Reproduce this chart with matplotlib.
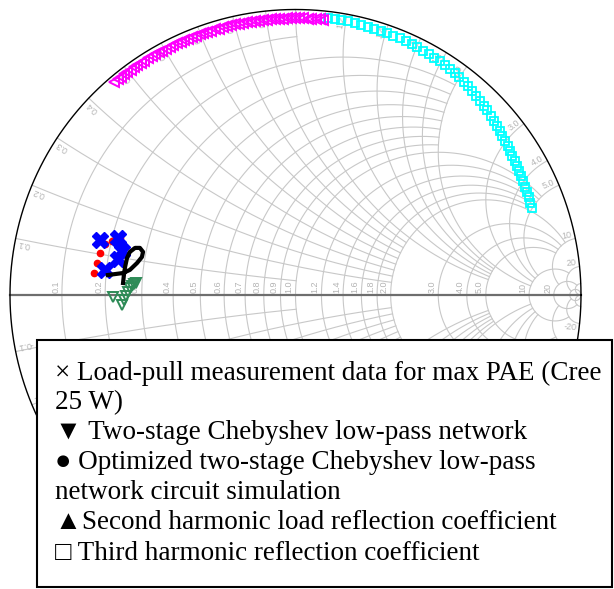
import numpy as np
import matplotlib.pyplot as plt
from matplotlib.patches import Rectangle

# smith grid values (circle value, value where it stops)
grid_vals = [50, 20, 10, 5, 4, 3, 2, 1.8, 1.6, 1.4, 1.2, 1.0, 0.9, 0.8, 0.7, 0.6, 0.5, 0.4, 0.3, 0.2, 0.1]
grid_ends = [np.inf, 50, 20, 10, 10, 10, 10, 5, 5, 5, 5, 5, 2, 2, 2, 2, 2, 2, 2, 2, 1]

# load-pull measurement (x markers), reflection coefficient re / im
lp_re = [-0.685, -0.622, -0.608, -0.622, -0.667]
lp_im = [0.193, 0.200, 0.154, 0.126, 0.088]

# two-stage chebyshev network (down triangles)
cheb_re = [-0.639, -0.608, -0.601, -0.594, -0.587, -0.580, -0.573, -0.566, -0.559]
cheb_im = [-0.007, -0.035, -0.018, -0.004, 0.011, 0.025, 0.032, 0.039, 0.042]

# optimized network, circuit simulation (dots)
opt_re = [-0.706, -0.696, -0.685, -0.668, -0.643, -0.615]
opt_im = [0.077, 0.112, 0.147, 0.180, 0.189, 0.200]

# simulated trace (black curve)
sim_re = [-0.657, -0.604, -0.580, -0.555, -0.538, -0.534, -0.545, -0.562, -0.580, -0.590, -0.597, -0.601, -0.604]
sim_im = [0.070, 0.077, 0.088, 0.112, 0.133, 0.151, 0.165, 0.165, 0.151, 0.130, 0.098, 0.070, 0.042]

# second harmonic load reflection coefficient (magnitude, angle in deg)
h2_mag = [0.980, 0.980, 0.979, 0.979, 0.979, 0.978, 0.978, 0.978, 0.977, 0.977,
          0.977, 0.976, 0.976, 0.976, 0.975, 0.975, 0.975, 0.974, 0.974, 0.974,
          0.974, 0.973, 0.973, 0.973, 0.973, 0.972, 0.972, 0.972, 0.972, 0.971,
          0.971, 0.971, 0.971, 0.971, 0.970, 0.970, 0.970, 0.970, 0.970, 0.970,
          0.969, 0.969, 0.969, 0.969, 0.969, 0.969, 0.969, 0.969, 0.969, 0.969,
          0.969, 0.969, 0.969, 0.969, 0.969, 0.969]
h2_ang = [130.4, 129.5, 128.7, 127.8, 127.0, 126.2, 125.3, 124.5, 123.6, 122.8,
          122.0, 121.1, 120.3, 119.4, 118.6, 117.8, 116.9, 116.1, 115.2, 114.4,
          113.6, 112.7, 111.9, 111.0, 110.2, 109.4, 108.5, 107.7, 106.8, 106.0,
          105.2, 104.3, 103.5, 102.6, 101.8, 101.0, 100.1, 99.3, 98.4, 97.6,
          96.8, 95.9, 95.1, 94.2, 93.4, 92.6, 91.7, 90.9, 90.0, 89.2,
          88.4, 87.5, 86.7, 85.8, 85.0, 84.2]

# third harmonic reflection coefficient (magnitude, angle in deg)
h3_mag = [0.977, 0.977, 0.976, 0.976, 0.975, 0.975, 0.974, 0.973, 0.973, 0.972,
          0.971, 0.970, 0.969, 0.968, 0.967, 0.966, 0.965, 0.963, 0.962, 0.960,
          0.958, 0.956, 0.954, 0.951, 0.948, 0.945, 0.942, 0.939, 0.935, 0.932,
          0.928, 0.925, 0.921, 0.918, 0.914, 0.911, 0.908, 0.905, 0.902, 0.900,
          0.898, 0.896, 0.894, 0.892, 0.890, 0.888, 0.886, 0.884, 0.883]
h3_ang = [83.3, 81.9, 80.5, 79.1, 77.7, 76.3, 74.9, 73.5, 72.1, 70.7,
          69.3, 67.9, 66.5, 65.1, 63.8, 62.4, 61.0, 59.7, 58.3, 57.0,
          55.6, 54.3, 53.0, 51.7, 50.4, 49.1, 47.8, 46.5, 45.2, 43.9,
          42.6, 41.3, 40.1, 38.8, 37.6, 36.3, 35.1, 33.8, 32.6, 31.4,
          30.1, 28.9, 27.7, 26.5, 25.2, 24.0, 22.8, 21.5, 20.2]

legend_lines = [
    '\u00d7 Load-pull measurement data for max PAE (Cree',
    '25 W)',
    '\u25bc Two-stage Chebyshev low-pass network',
    '\u25cf Optimized two-stage Chebyshev low-pass',
    'network circuit simulation',
    '\u25b2Second harmonic load reflection coefficient',
    '\u25a1 Third harmonic reflection coefficient',
]


def gamma(z):
    return (z - 1) / (z + 1)


fig = plt.figure(figsize=(6.14, 5.89), dpi=100)
ax = fig.add_axes([0, 0, 1, 1])
ax.set_xlim(-1.035, 1.1156)
ax.set_ylim(-1.0298, 1.0333)
ax.axis('off')

# legend box corners in data units (used to skip labels hidden by it)
box_left = (37 - 295.5) / 285.5
box_top = (295 - 340) / 285.5

grid_col = '#c8c8c8'
lab_col = '#b4b4b4'
for v, e in zip(grid_vals, grid_ends):
    # resistance circle
    t = np.linspace(-np.arctan(e), np.arctan(e), 800)
    g = gamma(v + 1j * np.tan(t))
    ax.plot(g.real, g.imag, color=grid_col, lw=0.8, zorder=1)
    # reactance arcs
    t = np.linspace(0, np.arctan(e), 600)
    for s in (1, -1):
        g = gamma(np.tan(t) + 1j * s * v)
        ax.plot(g.real, g.imag, color=grid_col, lw=0.8, zorder=1)
    if v == 50:
        continue
    lab = '%.1f' % v if v < 10 else '%d' % v
    gr = (v - 1) / (v + 1)
    ax.text(gr - 0.006, 0.008, lab, rotation=90, rotation_mode='anchor',
            ha='left', va='bottom', fontsize=6.5, color=lab_col,
            family='Liberation Sans', zorder=2)
    for s in (1, -1):
        g = gamma(1j * s * v)
        if g.imag < box_top and g.real > box_left:
            continue
        th = np.degrees(np.angle(g))
        ax.text(0.99 * g.real, 0.99 * g.imag, ('' if s > 0 else '-') + lab,
                rotation=th, rotation_mode='anchor', ha='right',
                va='bottom' if s > 0 else 'top', fontsize=6.5, color=lab_col,
                family='Liberation Sans', zorder=2)

ax.plot([-1, 1], [0, 0], color='#6e6e6e', lw=1.6, zorder=2)
th = np.linspace(0, 2 * np.pi, 720)
ax.plot(np.cos(th), np.sin(th), color='black', lw=1.0, zorder=2)

# data
h2 = np.array(h2_mag) * np.exp(1j * np.radians(h2_ang))
h3 = np.array(h3_mag) * np.exp(1j * np.radians(h3_ang))
ax.plot(h3.real, h3.imag, 's', ms=5.5, mfc='none', mec='cyan', mew=1.3, zorder=4)
ax.plot(h2.real, h2.imag, '<', ms=7, mfc='none', mec='magenta', mew=1.4, zorder=4)
ax.plot(opt_re, opt_im, 'o', ms=4.5, color='red', zorder=4)
ax.plot(lp_re, lp_im, 'X', ms=11, color='blue', mec='blue', zorder=5)
ax.plot(sim_re, sim_im, '-', color='black', lw=3, zorder=5)
ax.plot(cheb_re, cheb_im, 'v', ms=7, mfc='none', mec='#2e8b57', mew=1.4, zorder=4)

# legend box
fig.patches.append(Rectangle((37 / 614, 2 / 589), 575 / 614, 247 / 589,
                             transform=fig.transFigure, facecolor='white',
                             edgecolor='black', lw=1.5, zorder=5))
baselines = [380, 409, 439, 469, 499, 529, 560]
for txt, yb in zip(legend_lines, baselines):
    fig.text(55 / 614, 1 - yb / 589, txt, fontsize=19.5, va='baseline',
             family=['Liberation Serif', 'DejaVu Sans'], zorder=6)

fig.savefig('out.png', dpi=100)
